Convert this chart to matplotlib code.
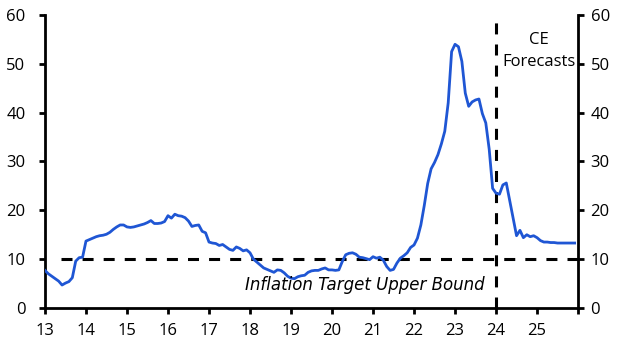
import numpy as np
import matplotlib
matplotlib.use("Agg")
import matplotlib.pyplot as plt

plt.rcParams['font.family'] = ['Open Sans', 'DejaVu Sans']

# monthly inflation (% y/y), Jan 2013 .. Dec 2025 (2024 onwards = CE forecasts)
start_year = 13
inflation = (
    [7.7, 7.0, 6.5, 6.0, 5.5, 4.7, 5.1, 5.4, 6.2, 9.6, 10.3, 10.4]            # 2013
    + [13.7, 14.0, 14.3, 14.6, 14.8, 14.9, 15.1, 15.5, 16.1, 16.6, 17.0, 17.0]  # 2014
    + [16.6, 16.5, 16.6, 16.8, 17.0, 17.2, 17.5, 17.9, 17.3, 17.3, 17.4, 17.7]  # 2015
    + [18.9, 18.4, 19.2, 18.9, 18.8, 18.5, 17.8, 16.7, 16.9, 17.0, 15.7, 15.4]  # 2016
    + [13.5, 13.3, 13.2, 12.8, 13.0, 12.5, 12.0, 11.8, 12.5, 12.2, 11.7, 11.9]  # 2017
    + [11.3, 10.0, 9.4, 8.8, 8.2, 7.9, 7.6, 7.3, 7.8, 7.7, 7.2, 6.5]          # 2018
    + [6.1, 6.0, 6.4, 6.6, 6.7, 7.3, 7.6, 7.7, 7.7, 8.0, 8.2, 7.8]            # 2019
    + [7.8, 7.7, 7.8, 9.5, 10.9, 11.2, 11.3, 11.0, 10.4, 10.3, 10.1, 9.9]     # 2020
    + [10.5, 10.2, 10.4, 9.8, 8.5, 7.7, 7.9, 9.2, 10.2, 10.7, 11.3, 12.4]     # 2021
    + [12.9, 14.3, 17.0, 21.0, 25.5, 28.5, 29.8, 31.4, 33.6, 36.2, 42.0, 52.5]  # 2022
    + [54.0, 53.5, 50.5, 44.0, 41.3, 42.2, 42.6, 42.8, 39.8, 37.9, 32.5, 24.5]  # 2023
    + [23.5, 23.3, 25.2, 25.6, 22.0, 18.3, 14.8, 15.9, 14.4, 15.0, 14.6, 14.8]  # 2024
    + [14.4, 13.8, 13.5, 13.5, 13.4, 13.4, 13.3, 13.3, 13.3, 13.3, 13.3, 13.3]  # 2025
)
target_upper = 10
forecast_start = 24
year_ticks = list(range(13, 27))
year_labels = [str(y) for y in range(13, 26)] + [""]
y_ticks = [0, 10, 20, 30, 40, 50, 60]

x = start_year + np.arange(len(inflation)) / 12

fig = plt.figure(figsize=(6.29, 3.54), dpi=100)
ax = fig.add_axes([0.0715, 0.130, 0.8475, 0.8276])

ax.plot(x, inflation, color="#1f56d4", lw=2.0, solid_joinstyle="round", zorder=3)

# target line and forecast divider
ax.hlines(target_upper, 13.4, 26, colors="black", lw=2.2, linestyles=(0, (3.6, 3.3)), zorder=2)
ax.vlines(forecast_start, 0, 58.6, colors="black", lw=2.2, linestyles=(0, (3.6, 3.3)), zorder=2)

ax.text(23.71, 4.7, "Inflation Target Upper Bound", family="DejaVu Sans", style="italic",
        fontsize=12, ha="right", va="center")
ax.text(25.04, 52.6, "CE\nForecasts", fontsize=12, ha="center", va="center",
        multialignment="center", linespacing=1.45)

ax.set_xlim(13, 26)
ax.set_ylim(0, 60)
ax.set_xticks(year_ticks)
ax.set_xticklabels(year_labels)
ax.set_yticks(y_ticks)

ax2 = ax.twinx()
ax2.set_ylim(0, 60)
ax2.set_yticks(y_ticks)

for a in (ax, ax2):
    a.spines["top"].set_visible(False)
    for s in ("left", "right", "bottom"):
        a.spines[s].set_linewidth(2.0)
    a.tick_params(width=2.0, length=4, labelsize=12, colors="black")
ax.spines["right"].set_visible(False)
ax2.spines["left"].set_visible(False)
ax2.spines["bottom"].set_visible(False)
ax.tick_params(axis="y", pad=10)
ax.tick_params(axis="x", pad=7)
ax2.tick_params(axis="y", pad=5)

fig.savefig("out.png", dpi=100)
